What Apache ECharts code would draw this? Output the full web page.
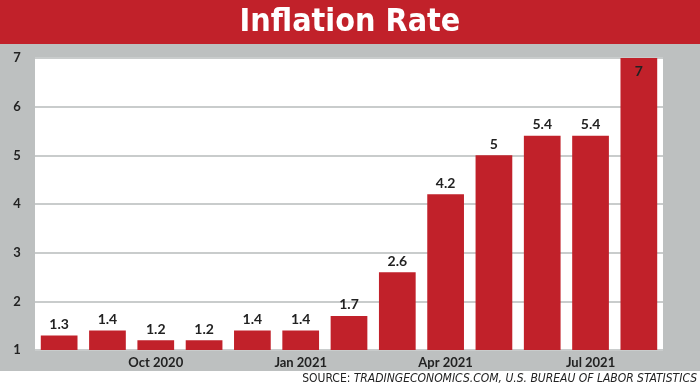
<!DOCTYPE html>
<html><head><meta charset="utf-8">
<script src="https://cdn.jsdelivr.net/npm/echarts@6/dist/echarts.min.js"></script>
<style>html,body{margin:0;padding:0;background:#bdc0c0}#c{width:700px;height:388px}</style>
</head><body><div id="c"></div>
<script>
const categories = ['Aug 2020','Sep 2020','Oct 2020','Nov 2020','Dec 2020','Jan 2021','Feb 2021','Mar 2021','Apr 2021','May 2021','Jun 2021','Jul 2021','Dec 2021'];
const values = [1.3, 1.4, 1.2, 1.2, 1.4, 1.4, 1.7, 2.6, 4.2, 5, 5.4, 5.4, 7];
const yTicks = [1, 2, 3, 4, 5, 6, 7];
const titleText = 'Inflation Rate';
const sourceLead = 'SOURCE: ';
const sourceRest = 'TRADINGECONOMICS.COM, U.S. BUREAU OF LABOR STATISTICS';

const RED = '#c1212a';
const chart = echarts.init(document.getElementById('c'), null, {renderer: 'canvas'});
const font = 'Lato, "DejaVu Sans", sans-serif';
chart.setOption({
  backgroundColor: '#bdc0c0',
  animation: false,
  title: {
    text: titleText, left: 'center', top: 2,
    textStyle: {color: '#fff', fontSize: 32, fontWeight: 'bold', fontFamily: '"Liberation Sans Narrow","DejaVu Sans Condensed", sans-serif'}
  },
  graphic: [
    {type: 'rect', z: -10, left: 0, top: 0, shape: {width: 700, height: 44}, style: {fill: RED}},
    {type: 'rect', z: -10, left: 0, top: 371, shape: {width: 700, height: 17}, style: {fill: '#fff'}},
    {type: 'text', right: 3, top: 373, style: {
      rich: {
        a: {fontFamily: '"Liberation Sans Narrow","DejaVu Sans Condensed",sans-serif', fontSize: 12, fill: '#222'},
        b: {fontFamily: '"Liberation Sans Narrow","DejaVu Sans Condensed",sans-serif', fontSize: 12, fontStyle: 'italic', fill: '#222'}
      },
      text: '{a|' + sourceLead + '}{b|' + sourceRest + '}'
    }}
  ],
  grid: {left: 35, right: 37, top: 58, bottom: 38, show: true, backgroundColor: '#fff', borderWidth: 0},
  xAxis: {
    type: 'category', data: categories,
    axisLine: {show: false}, axisTick: {show: false},
    axisLabel: {
      interval: function (i) { return i % 3 === 2; },
      color: '#222', fontSize: 13, fontWeight: 'bold', fontFamily: font, margin: 6
    }
  },
  yAxis: {
    type: 'value', min: yTicks[0], max: yTicks[yTicks.length - 1], interval: 1,
    axisLine: {show: false}, axisTick: {show: false},
    axisLabel: {color: '#222', fontSize: 13, fontWeight: 'bold', fontFamily: font, align: 'center', margin: 18},
    splitLine: {lineStyle: {color: '#c9cccc', width: 2}}
  },
  series: [{
    type: 'bar', data: values.map(function (v, i) {
      return i === values.length - 1 ? {value: v, label: {position: 'insideTop', distance: 6}} : v;
    }),
    barWidth: '76%',
    itemStyle: {color: RED},
    label: {show: true, position: 'top', distance: 4, color: '#222', fontSize: 14, fontWeight: 'bold', fontFamily: font}
  }]
});
</script></body></html>
